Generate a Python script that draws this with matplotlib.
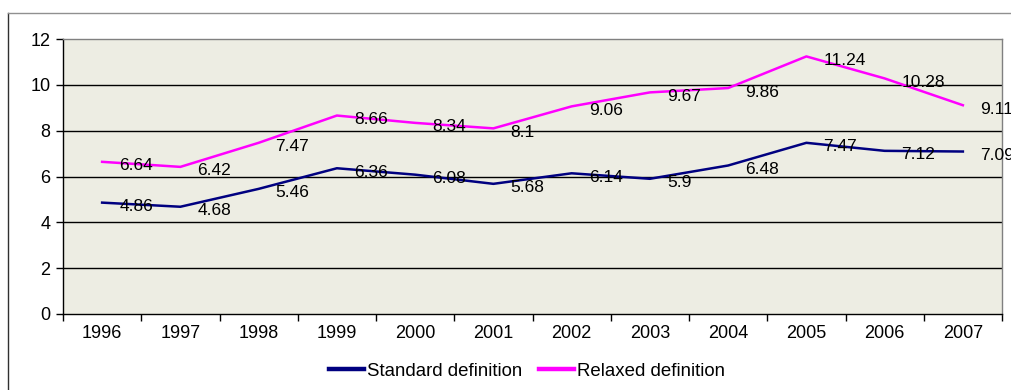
import matplotlib
matplotlib.use("Agg")
import matplotlib.pyplot as plt
from matplotlib.lines import Line2D
import numpy as np

years = ["1996", "1997", "1998", "1999", "2000", "2001",
         "2002", "2003", "2004", "2005", "2006", "2007"]
standard = [4.86, 4.68, 5.46, 6.36, 6.08, 5.68, 6.14, 5.9, 6.48, 7.47, 7.12, 7.09]
relaxed = [6.64, 6.42, 7.47, 8.66, 8.34, 8.1, 9.06, 9.67, 9.86, 11.24, 10.28, 9.11]
y_ticks = [0, 2, 4, 6, 8, 10, 12]

plt.rcParams["font.family"] = ["Liberation Sans", "DejaVu Sans"]
FS_LABEL = 12.5
FS_TICK = 13
FS_LEG = 13.4

fig = plt.figure(figsize=(10.11, 3.90), dpi=100)
ax = fig.add_axes([63 / 1011, 1 - 314 / 390, 939 / 1011, 275 / 390])
ax.set_facecolor("#EDEDE3")

x = np.arange(len(years))
ax.set_xlim(-0.5, len(years) - 0.5)
ax.set_ylim(0, 12)

for v in y_ticks[1:-1]:
    ax.axhline(v, color="black", lw=1.0, zorder=1)

l1, = ax.plot(x, standard, color="#000080", lw=1.8, zorder=3, label="Standard definition")
l2, = ax.plot(x, relaxed, color="#FF00FF", lw=1.8, zorder=3, label="Relaxed definition")

for series in (standard, relaxed):
    for xi, v in zip(x, series):
        ax.annotate(f"{v:g}", (xi, v), xytext=(17, -4), textcoords="offset pixels",
                    ha="left", va="center", fontsize=FS_LABEL, color="black",
                    zorder=4, annotation_clip=False)

ax.set_yticks(y_ticks)
ax.set_yticklabels([str(v) for v in y_ticks], fontsize=FS_TICK)
ax.set_xticks(x)
ax.set_xticklabels(years, fontsize=FS_TICK)
ax.tick_params(axis="x", length=0, pad=8)
ax.set_xticks(np.arange(-0.5, len(years), 1.0), minor=True)
ax.tick_params(axis="x", which="minor", length=5, width=1, color="black", direction="out")
ax.tick_params(axis="y", length=5, width=1, color="black", direction="out", pad=4)

for side in ("top", "right"):
    ax.spines[side].set_color("#808080")
    ax.spines[side].set_linewidth(1.0)
for side in ("left", "bottom"):
    ax.spines[side].set_color("black")
    ax.spines[side].set_linewidth(1.0)

leg = fig.legend(handles=[l1, l2], loc="center", bbox_to_anchor=(527 / 1011, 1 - 371 / 390),
                 ncol=2, frameon=False, fontsize=FS_LEG, handlelength=1.85,
                 handletextpad=0.15, columnspacing=0.95)
for h in leg.get_lines():
    h.set_linewidth(3.2)

# chart area frame
fig.add_artist(Line2D([8 / 1011, 8 / 1011], [0, 1 - 13 / 390], transform=fig.transFigure,
                      color="#303030", lw=1.0))
fig.add_artist(Line2D([8 / 1011, 1], [1 - 13 / 390, 1 - 13 / 390], transform=fig.transFigure,
                      color="#909090", lw=1.0))

fig.savefig("out.png", dpi=100)
